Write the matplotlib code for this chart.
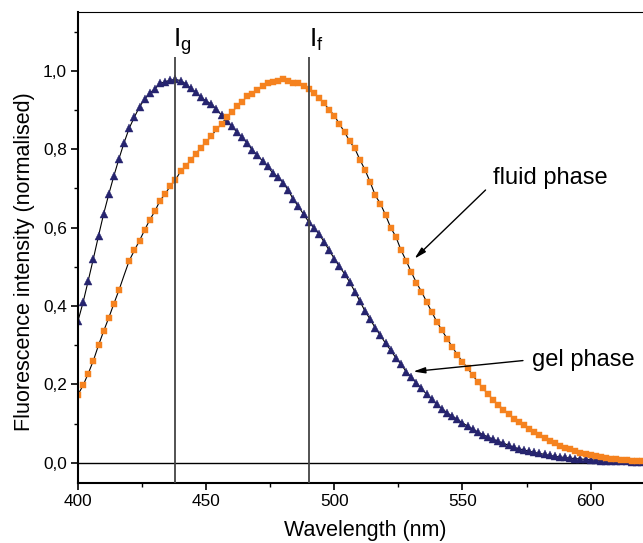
import numpy as np
import matplotlib
matplotlib.use("Agg")
import matplotlib.pyplot as plt
from matplotlib.ticker import MultipleLocator, FixedLocator

plt.rcParams['font.family'] = ['Liberation Sans', 'DejaVu Sans']

# wavelength grid (nm), one reading every 2 nm
wavelength = np.arange(400, 621, 2)

# gel phase, normalised intensity (400..620 nm)
gel = [0.362, 0.410, 0.465, 0.521, 0.579, 0.635, 0.685, 0.732, 0.776, 0.817,
       0.854, 0.882, 0.908, 0.928, 0.943, 0.954, 0.968, 0.972, 0.976, 0.978,
       0.975, 0.967, 0.955, 0.945, 0.932, 0.923, 0.915, 0.902, 0.887, 0.872,
       0.858, 0.844, 0.830, 0.816, 0.798, 0.785, 0.770, 0.756, 0.739, 0.730,
       0.715, 0.696, 0.672, 0.654, 0.634, 0.615, 0.600, 0.584, 0.564, 0.542,
       0.521, 0.501, 0.482, 0.461, 0.437, 0.412, 0.387, 0.366, 0.344, 0.325,
       0.305, 0.287, 0.268, 0.252, 0.233, 0.219, 0.204, 0.190, 0.175, 0.163,
       0.149, 0.138, 0.128, 0.119, 0.111, 0.102, 0.094, 0.086, 0.079, 0.072,
       0.066, 0.060, 0.055, 0.050, 0.045, 0.040, 0.036, 0.033, 0.030, 0.027,
       0.024, 0.022, 0.019, 0.017, 0.015, 0.014, 0.012, 0.011, 0.010, 0.009,
       0.008, 0.007, 0.006, 0.006, 0.005, 0.005, 0.004, 0.004, 0.003, 0.003, 0.003]

# fluid phase, normalised intensity (400..620 nm)
fluid = [0.174, 0.198, 0.228, 0.261, 0.300, 0.336, 0.370, 0.406, 0.441, 0.479,
         0.516, 0.542, 0.567, 0.594, 0.620, 0.642, 0.669, 0.686, 0.706, 0.721,
         0.744, 0.757, 0.772, 0.789, 0.804, 0.819, 0.833, 0.851, 0.864, 0.882,
         0.894, 0.909, 0.921, 0.935, 0.941, 0.952, 0.960, 0.969, 0.971, 0.973,
         0.980, 0.975, 0.969, 0.970, 0.960, 0.953, 0.944, 0.931, 0.917, 0.901,
         0.886, 0.864, 0.844, 0.820, 0.802, 0.773, 0.747, 0.716, 0.682, 0.661,
         0.632, 0.600, 0.577, 0.543, 0.516, 0.487, 0.460, 0.437, 0.411, 0.385,
         0.360, 0.338, 0.317, 0.296, 0.276, 0.258, 0.242, 0.223, 0.207, 0.190,
         0.175, 0.161, 0.148, 0.136, 0.124, 0.113, 0.104, 0.096, 0.087, 0.078,
         0.070, 0.063, 0.056, 0.050, 0.044, 0.039, 0.035, 0.031, 0.026, 0.023,
         0.020, 0.017, 0.014, 0.013, 0.011, 0.009, 0.008, 0.007, 0.006, 0.005, 0.005]

# peak markers
peak_g = 438
peak_f = 490

y_ticks = [0.0, 0.2, 0.4, 0.6, 0.8, 1.0]
y_labels = ["0,0", "0,2", "0,4", "0,6", "0,8", "1,0"]
x_ticks = [400, 450, 500, 550, 600]

navy = '#26246f'
orange = '#f5821f'

fig = plt.figure(figsize=(6.43, 5.43), dpi=100)
ax = fig.add_axes([0.1213, 0.1114, 0.877, 0.8665])

ax.axhline(0, color='black', lw=1.0, zorder=1)

ax.plot(wavelength, gel, color='black', lw=0.8, marker='^', ms=5.5,
        mfc=navy, mec=navy, mew=0.3, zorder=2)
# one fluid reading has no marker in the original
fluid_marks = [i for i in range(len(fluid)) if i != 9]
ax.plot(wavelength, fluid, color='black', lw=0.8, marker='s', ms=4.3,
        mfc=orange, mec=orange, mew=0.3, markevery=fluid_marks, zorder=2)

ax.vlines([peak_g, peak_f], -0.05, 1.034, color='#444444', lw=1.3, zorder=3)
ax.text(437.0, 1.061, r'$\mathregular{I_g}$', fontsize=19, ha='left', va='baseline')
ax.text(490.2, 1.061, r'$\mathregular{I_f}$', fontsize=19, ha='left', va='baseline')

arrow = dict(arrowstyle='-|>,head_length=0.7,head_width=0.18', color='black', lw=1.0,
             shrinkA=0, shrinkB=0)
ax.annotate('', xy=(531.3, 0.521), xytext=(559.0, 0.696), arrowprops=arrow)
ax.annotate('', xy=(530.8, 0.233), xytext=(573.6, 0.261), arrowprops=arrow)
ax.text(562.1, 0.727, 'fluid phase', fontsize=17, ha='left', va='center')
ax.text(577.0, 0.262, 'gel phase', fontsize=17, ha='left', va='center')

ax.set_xlim(400, 620)
ax.set_ylim(-0.05, 1.15)
ax.set_xticks(x_ticks)
ax.xaxis.set_minor_locator(MultipleLocator(25))
ax.set_yticks(y_ticks)
ax.set_yticklabels(y_labels)
ax.yaxis.set_minor_locator(FixedLocator([0.1, 0.3, 0.5, 0.7, 0.9, 1.1]))
ax.tick_params(which='major', direction='out', length=5, width=1.2, labelsize=12.4, pad=3)
ax.tick_params(which='minor', direction='out', length=3, width=1.0)

ax.spines['left'].set_linewidth(1.5)
ax.spines['bottom'].set_linewidth(1.5)
ax.spines['top'].set_linewidth(0.8)
ax.spines['right'].set_visible(False)

ax.set_xlabel('Wavelength (nm)', fontsize=15.5, labelpad=8)
ax.set_ylabel('Fluorescence intensity (normalised)', fontsize=15.5, labelpad=6)
ax.xaxis.label.set_x(0.51)
ax.yaxis.label.set_y(0.469)

fig.savefig('out.png', dpi=100)
